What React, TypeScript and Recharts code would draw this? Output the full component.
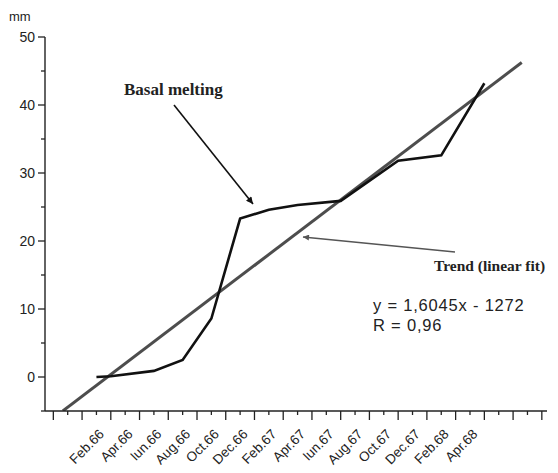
import { Line, LineChart, XAxis, YAxis } from 'recharts';

// basal melting measurements: x is month count (Jan.1900 = 0), y in mm
const meltMonths = [792, 793, 796, 798, 800, 802, 804, 806, 809, 813, 816, 819];
const meltValues = [0, 0.1, 0.9, 2.5, 8.6, 23.3, 24.6, 25.3, 25.9, 31.8, 32.6, 43.2];

// labelled (odd) months along the time axis
const labelMonths = [793, 795, 797, 799, 801, 803, 805, 807, 809, 811, 813, 815, 817, 819];
const monthLabels = [
  'Feb.66', 'Apr.66', 'Iun.66', 'Aug.66', 'Oct.66', 'Dec.66', 'Feb.67',
  'Apr.67', 'Iun.67', 'Aug.67', 'Oct.67', 'Dec.67', 'Feb.68', 'Apr.68',
];

const yTicks = [-5, 0, 5, 10, 15, 20, 25, 30, 35, 40, 45, 50];

// linear fit reported on the chart
const fitSlope = 1.6045;
const fitIntercept = -1272;
const fitRange = [789.66, 821.6];

const meltData = meltMonths.map((m, i) => ({ m, v: meltValues[i] }));
const trendData = fitRange.map(m => ({ m, v: fitSlope * m + fitIntercept }));

const allMonths: number[] = [];
for (let m = 789; m <= 823; m++) allMonths.push(m);

const W = 558;
const H = 473;
const LEFT = 45;
const TOP = 37;
const RIGHT = 547;
const BOTTOM = 411;

const SANS = '"Liberation Sans", Arial, sans-serif';
const SERIF = '"Liberation Serif", "Times New Roman", serif';

function MonthTick({ x, payload }: any) {
  const m = payload.value;
  const idx = labelMonths.indexOf(m);
  const long = m % 2 === 1;
  const tx = x - 6;
  const ty = 435;
  return (
    <g>
      <line x1={x} x2={x} y1={BOTTOM} y2={BOTTOM + (long ? 9 : 4)} stroke="#222" strokeWidth={1.3} />
      {idx >= 0 && (
        <text
          x={tx}
          y={ty}
          transform={`rotate(-45 ${tx} ${ty})`}
          textAnchor="end"
          fontSize={13.5}
          fontFamily={SANS}
          fill="#222"
        >
          {monthLabels[idx]}
        </text>
      )}
    </g>
  );
}

function MmTick({ y, payload }: any) {
  const v = payload.value;
  const major = v % 10 === 0;
  return (
    <g>
      <line x1={LEFT - (major ? 7 : 4)} x2={LEFT} y1={y} y2={y} stroke="#222" strokeWidth={1.3} />
      {major && (
        <text x={35} y={y} dy={5} textAnchor="end" fontSize={14} fontFamily={SANS} fill="#222">
          {v}
        </text>
      )}
    </g>
  );
}

export default function App() {
  return (
    <div style={{ position: 'absolute', left: 0, top: 0, width: W, height: H, background: '#fff' }}>
      <LineChart
        width={W}
        height={H}
        margin={{ top: TOP, right: W - RIGHT, bottom: 0, left: 0 }}
      >
        <XAxis
          type="number"
          dataKey="m"
          domain={[788.42, 823.36]}
          allowDataOverflow
          ticks={allMonths}
          interval={0}
          tickLine={false}
          tick={<MonthTick />}
          height={H - BOTTOM}
          axisLine={{ stroke: '#222', strokeWidth: 1.4 }}
        />
        <YAxis
          type="number"
          domain={[-5, 50]}
          allowDataOverflow
          ticks={yTicks}
          interval={0}
          tickLine={false}
          tick={<MmTick />}
          width={LEFT}
          axisLine={{ stroke: '#222', strokeWidth: 1.4 }}
        />
        <Line
          data={trendData}
          dataKey="v"
          type="linear"
          stroke="#4d4d4d"
          strokeWidth={3}
          dot={false}
          isAnimationActive={false}
        />
        <Line
          data={meltData}
          dataKey="v"
          type="linear"
          stroke="#111"
          strokeWidth={2.6}
          strokeLinejoin="miter"
          dot={false}
          isAnimationActive={false}
        />
      </LineChart>

      <svg
        width={W}
        height={H}
        style={{ position: 'absolute', left: 0, top: 0, pointerEvents: 'none' }}
      >
        <defs>
          <marker id="headDark" viewBox="0 0 10 10" refX="10" refY="5" markerWidth="9" markerHeight="7" orient="auto" markerUnits="userSpaceOnUse">
            <path d="M0,0 L10,5 L0,10 z" fill="#111" />
          </marker>
          <marker id="headGrey" viewBox="0 0 10 10" refX="10" refY="5" markerWidth="10" markerHeight="6" orient="auto" markerUnits="userSpaceOnUse">
            <path d="M0,0 L10,5 L0,10 z" fill="#555" />
          </marker>
        </defs>
        <text x={9} y={21} fontSize={13} fontFamily={SANS} fill="#222">mm</text>

        <text x={124} y={95} fontSize={17} fontWeight="bold" fontFamily={SERIF} fill="#222">
          Basal melting
        </text>
        <line x1={174} y1={105} x2={253} y2={204} stroke="#111" strokeWidth={1.6} markerEnd="url(#headDark)" />

        <text x={434} y={271} fontSize={15.5} fontWeight="bold" fontFamily={SERIF} fill="#222">
          Trend (linear fit)
        </text>
        <line x1={455} y1={252} x2={303} y2={237} stroke="#555" strokeWidth={1.6} markerEnd="url(#headGrey)" />

        <text x={373} y={311} fontSize={16.5} letterSpacing={0.8} fontFamily={SANS} fill="#222">y = 1,6045x - 1272</text>
        <text x={373} y={331} fontSize={16.5} letterSpacing={0.8} fontFamily={SANS} fill="#222">R = 0,96</text>
      </svg>
    </div>
  );
}
